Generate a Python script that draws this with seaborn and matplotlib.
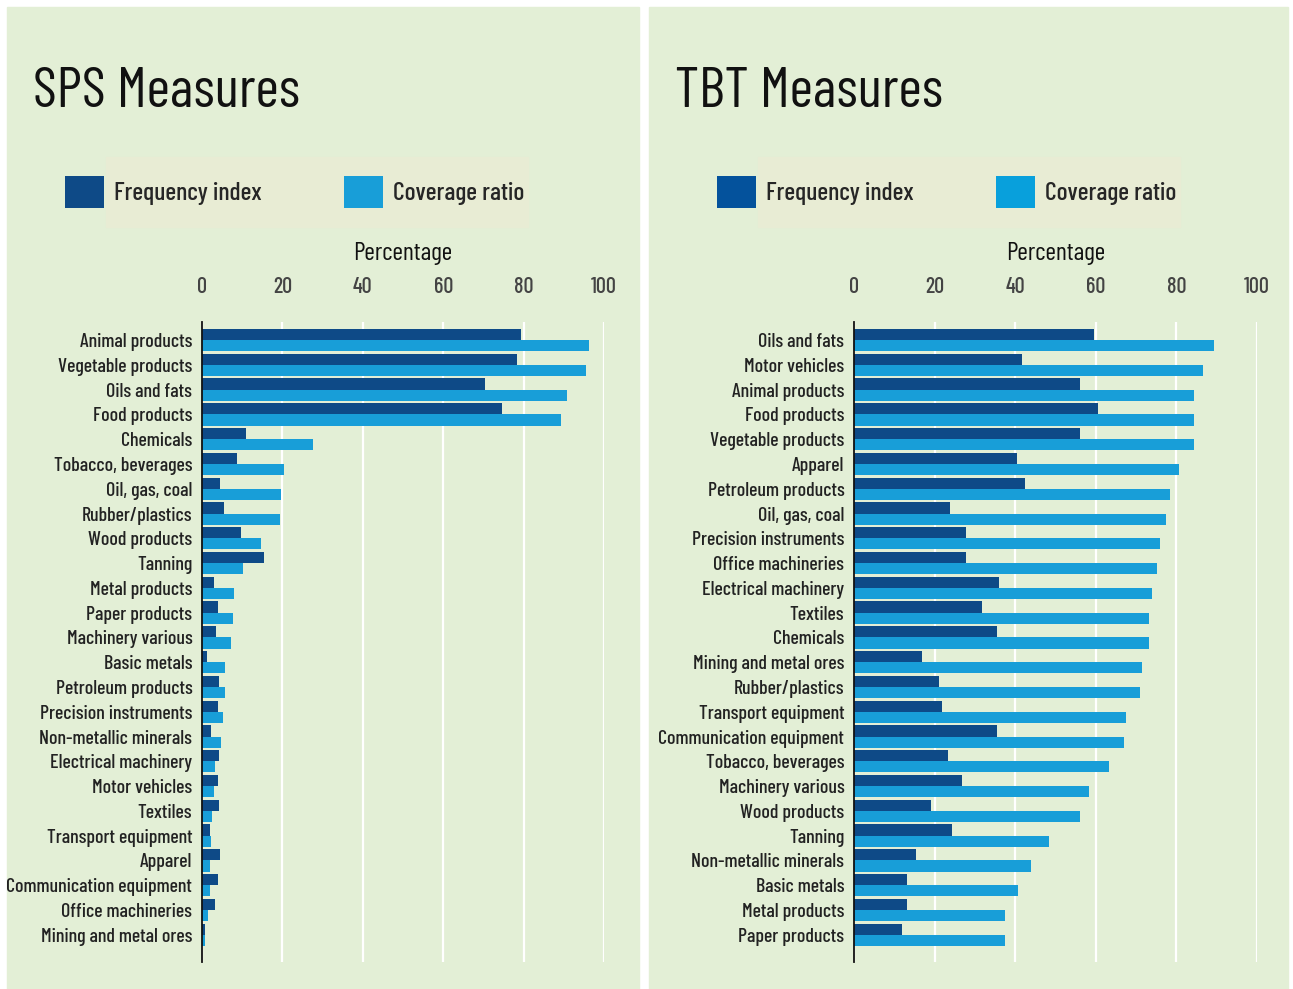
import pandas as pd
import matplotlib.pyplot as plt
import seaborn as sns
from matplotlib import font_manager as fm
from matplotlib.patches import Rectangle, Patch

# Data (percentages)

sps_sectors = [
    "Animal products", "Vegetable products", "Oils and fats", "Food products",
    "Chemicals", "Tobacco, beverages", "Oil, gas, coal", "Rubber/plastics",
    "Wood products", "Tanning", "Metal products", "Paper products",
    "Machinery various", "Basic metals", "Petroleum products",
    "Precision instruments", "Non-metallic minerals", "Electrical machinery",
    "Motor vehicles", "Textiles", "Transport equipment", "Apparel",
    "Communication equipment", "Office machineries", "Mining and metal ores",
]
sps_frequency = [79.3, 78.3, 70.3, 74.6, 11.0, 8.7, 4.5, 5.5, 9.6, 15.3, 2.9, 3.9,
                 3.5, 1.2, 4.2, 3.9, 2.2, 4.3, 3.9, 4.2, 1.9, 4.5, 3.9, 3.2, 0.8]
sps_coverage = [96.3, 95.5, 90.7, 89.3, 27.7, 20.3, 19.7, 19.4, 14.6, 10.3, 8.0, 7.6,
                7.3, 5.8, 5.8, 5.2, 4.8, 3.2, 2.9, 2.5, 2.2, 1.9, 1.9, 1.5, 0.7]

tbt_sectors = [
    "Oils and fats", "Motor vehicles", "Animal products", "Food products",
    "Vegetable products", "Apparel", "Petroleum products", "Oil, gas, coal",
    "Precision instruments", "Office machineries", "Electrical machinery",
    "Textiles", "Chemicals", "Mining and metal ores", "Rubber/plastics",
    "Transport equipment", "Communication equipment", "Tobacco, beverages",
    "Machinery various", "Wood products", "Tanning", "Non-metallic minerals",
    "Basic metals", "Metal products", "Paper products",
]
tbt_frequency = [59.6, 41.7, 56.2, 60.6, 56.2, 40.4, 42.4, 23.9, 27.7, 27.7, 36.0,
                 31.7, 35.5, 16.9, 21.2, 21.9, 35.5, 23.3, 26.7, 19.2, 24.2, 15.3,
                 13.2, 13.2, 11.9]
tbt_coverage = [89.4, 86.7, 84.3, 84.3, 84.3, 80.6, 78.3, 77.4, 76.0, 75.3, 73.9,
                73.2, 73.2, 71.5, 70.9, 67.6, 66.9, 63.2, 58.2, 56.2, 48.5, 43.8,
                40.8, 37.4, 37.4]

series_names = ["Frequency index", "Coverage ratio"]
x_ticks = [0, 20, 40, 60, 80, 100]

# Style

sns.set_theme(style="white")

installed = {f.name for f in fm.fontManager.ttflist}
narrow_font = next(
    (f for f in ["Barlow Condensed", "Roboto Condensed", "Archivo Narrow",
                 "Liberation Sans Narrow"] if f in installed),
    "DejaVu Sans",
)
plt.rcParams["font.family"] = [narrow_font, "DejaVu Sans"]
plt.rcParams["font.weight"] = 500

palette = {"Frequency index": "#0e4a87", "Coverage ratio": "#189ed8"}
legend_colors = {
    "SPS": ["#0e4a87", "#189ed8"],
    "TBT": ["#04529c", "#08a0dc"],
}
panel_bg = "#e3efd6"
legend_bg = "#e8ecd4"

W, H = 1293, 989
fig = plt.figure(figsize=(W / 100, H / 100), dpi=100, facecolor="white")


def fx(px):
    return px / W


def fy(py):
    return 1 - py / H


panels = [
    ("SPS", "SPS Measures", sps_sectors, sps_frequency, sps_coverage, 7, 639, 202, 604),
    ("TBT", "TBT Measures", tbt_sectors, tbt_frequency, tbt_coverage, 649, 1288, 854, 1257),
]

for key, title, sectors, freq, cov, p_left, p_right, a_left, a_right in panels:
    # panel background
    fig.patches.append(Rectangle((fx(p_left), 0), fx(p_right - p_left), fy(7),
                                 transform=fig.transFigure, color=panel_bg, zorder=-2))
    # legend background box
    fig.patches.append(Rectangle((fx(a_left - 96), fy(227)), fx(422), (227 - 157) / H,
                                 transform=fig.transFigure, color=legend_bg, zorder=-1))

    fig.text(fx(p_left + 26), fy(107), title, fontsize=41, fontweight=400,
             va="baseline", ha="left", color="#111111")

    plot_df = pd.DataFrame({
        "Sector": sectors * 2,
        "Value": freq + cov,
        "Series": [series_names[0]] * len(sectors) + [series_names[1]] * len(sectors),
    })

    ax = fig.add_axes([fx(a_left), fy(962), fx(a_right - a_left), fy(322) - fy(962)])
    ax.set_facecolor("none")

    sns.barplot(
        data=plot_df,
        y="Sector",
        x="Value",
        hue="Series",
        orient="h",
        palette=palette,
        saturation=1,
        width=0.9,
        linewidth=0,
        legend=False,
        ax=ax,
    )

    ax.set_xlim(0, 100)
    ax.set_ylim(len(sectors) - 1 + 1.1, -0.73)
    ax.set_xticks(x_ticks)
    ax.xaxis.tick_top()
    ax.xaxis.set_label_position("top")
    ax.set_xlabel("Percentage", fontsize=18.5, labelpad=12, color="#111111")
    ax.set_ylabel("")
    ax.tick_params(axis="x", length=0, pad=18, labelsize=16, labelcolor="#444444")
    ax.tick_params(axis="y", length=0, pad=7, labelsize=14.3, labelcolor="#222222")

    ax.grid(axis="x", color="white", linewidth=1.6)
    ax.grid(axis="y", visible=False)
    ax.set_axisbelow(True)
    for side in ["top", "right", "bottom"]:
        ax.spines[side].set_visible(False)
    ax.spines["left"].set_color("#111111")
    ax.spines["left"].set_linewidth(1.3)
    ax.spines["left"].set_zorder(5)

    handles = [Patch(facecolor=c, edgecolor="none") for c in legend_colors[key]]
    fig.legend(
        handles=handles,
        labels=series_names,
        loc="center left",
        bbox_to_anchor=(fx(a_left - 137), fy(192)),
        ncol=2,
        frameon=False,
        fontsize=18.5,
        handlelength=1.52,
        handleheight=1.52,
        handletextpad=0.39,
        columnspacing=3.2,
        borderpad=0,
        borderaxespad=0,
    )

fig.savefig("out.png", dpi=100, facecolor="white")
